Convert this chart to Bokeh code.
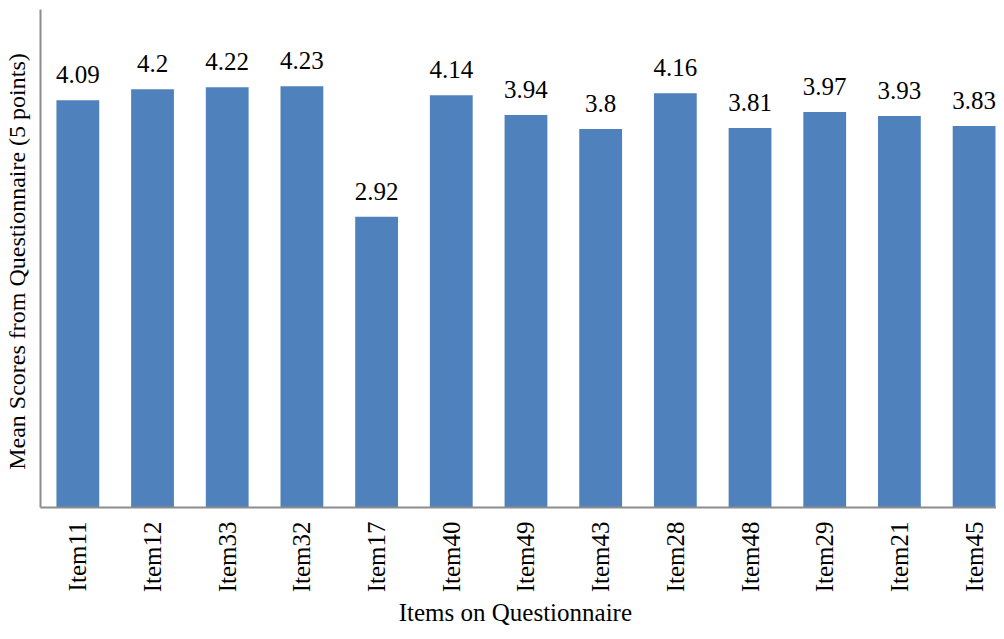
import math
from bokeh.plotting import figure
from bokeh.models import ColumnDataSource, LabelSet, Range1d, FixedTicker
from bokeh.embed import file_html
from bokeh.resources import INLINE

items = ["Item11", "Item12", "Item33", "Item32", "Item17", "Item40", "Item49",
         "Item43", "Item28", "Item48", "Item29", "Item21", "Item45"]
scores = [4.09, 4.2, 4.22, 4.23, 2.92, 4.14, 3.94, 3.8, 4.16, 3.81, 3.97, 3.93, 3.83]
score_labels = ["4.09", "4.2", "4.22", "4.23", "2.92", "4.14", "3.94", "3.8",
                "4.16", "3.81", "3.97", "3.93", "3.83"]
x_title = "Items  on Questionnaire"
y_title = "Mean Scores  from Questionnaire (5 points)"

pos = list(range(len(items)))
src = ColumnDataSource(dict(x=pos, top=scores, lbl=score_labels))

FONT = "Liberation Serif"

p = figure(width=996, height=631, output_backend="svg", toolbar_location=None,
           x_range=Range1d(-0.5, 12.3), y_range=Range1d(0, 5.0),
           min_border_left=0, min_border_right=0, min_border_top=9, min_border_bottom=124)
p.outline_line_color = None
p.grid.visible = False
p.background_fill_color = "white"
p.border_fill_color = "white"

p.vbar(x="x", top="top", width=0.573, bottom=0, source=src,
       fill_color="#4F81BD", line_color=None)

labels = LabelSet(x="x", y="top", text="lbl", source=src, text_align="center",
                  text_baseline="alphabetic", y_offset=17,
                  text_font=FONT, text_font_size="25px", text_color="black")
p.add_layout(labels)

p.xaxis.ticker = FixedTicker(ticks=pos)
p.xaxis.major_label_overrides = {i: n for i, n in zip(pos, items)}
p.xaxis.major_label_orientation = math.pi / 2
p.xaxis.major_label_text_font = FONT
p.xaxis.major_label_text_font_size = "25px"
p.xaxis.major_label_text_color = "black"
p.xaxis.major_label_standoff = 14
p.xaxis.major_tick_out = 0
p.xaxis.major_tick_in = 0
p.xaxis.minor_tick_out = 0
p.xaxis.major_tick_line_color = None
p.xaxis.minor_tick_line_color = None
p.xaxis.axis_line_color = "#8c8c8c"
p.xaxis.axis_line_width = 2
p.xaxis.axis_label = x_title
p.xaxis.axis_label_text_font = FONT
p.xaxis.axis_label_text_font_size = "25px"
p.xaxis.axis_label_text_font_style = "normal"
p.xaxis.axis_label_text_color = "black"
p.xaxis.axis_label_standoff = 4

p.yaxis.ticker = FixedTicker(ticks=[])
p.yaxis.major_tick_out = 0
p.yaxis.major_tick_in = 0
p.yaxis.minor_tick_out = 0
p.yaxis.major_tick_line_color = None
p.yaxis.minor_tick_line_color = None
p.yaxis.major_label_text_font_size = "0px"
p.yaxis.axis_line_color = "#8c8c8c"
p.yaxis.axis_line_width = 2
p.yaxis.axis_label = y_title
p.yaxis.axis_label_text_font = FONT
p.yaxis.axis_label_text_font_size = "24px"
p.yaxis.axis_label_text_font_style = "normal"
p.yaxis.axis_label_text_color = "black"
p.yaxis.axis_label_standoff = 11

open("out.html", "w").write(file_html(p, INLINE))
